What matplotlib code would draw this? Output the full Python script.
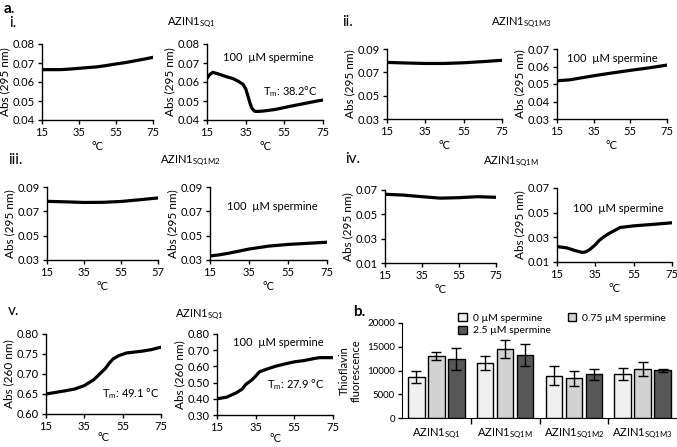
import matplotlib
matplotlib.use("Agg")
import matplotlib.pyplot as plt
import numpy as np

plt.rcParams['font.family'] = ['Lato', 'DejaVu Sans']
plt.rcParams['mathtext.fontset'] = 'custom'
plt.rcParams['mathtext.rm'] = 'Lato'
plt.rcParams['mathtext.it'] = 'Lato'
plt.rcParams['mathtext.default'] = 'regular'

W, H = 677, 447

# ---------------- data ----------------
# panel i (AZIN1 SQ1, 295 nm)
i_no_t = [15, 20, 25, 30, 35, 40, 45, 50, 55, 60, 65, 70, 75]
i_no_y = [0.0665, 0.0665, 0.0665, 0.0668, 0.0672, 0.0676, 0.0680, 0.0687, 0.0695, 0.0702, 0.0711, 0.0720, 0.0730]
i_sp_t = [15, 16.5, 18, 21, 25, 28.4, 31, 33.6, 35, 36.2, 37.2, 38, 39, 39.7, 41, 44, 50, 54.3, 58, 63, 68, 72, 75]
i_sp_y = [0.0620, 0.0640, 0.0651, 0.0642, 0.0628, 0.0618, 0.0605, 0.0588, 0.0565, 0.0525, 0.0490, 0.0467, 0.0452, 0.0446, 0.0445, 0.0447, 0.0455, 0.0464, 0.0472, 0.0482, 0.0492, 0.0500, 0.0505]

# panel ii (AZIN1 SQ1M3)
ii_no_t = [15, 25, 35, 45, 55, 65, 75]
ii_no_y = [0.0785, 0.0780, 0.0776, 0.0776, 0.0782, 0.0792, 0.0803]
ii_sp_t = [15, 22, 35, 45, 55, 65, 75]
ii_sp_y = [0.0518, 0.0524, 0.0547, 0.0563, 0.0578, 0.0592, 0.0608]

# panel iii (AZIN1 SQ1M2)
iii_no_t = [15, 25, 35, 45, 55, 65, 75]
iii_no_y = [0.0782, 0.0778, 0.0773, 0.0774, 0.0781, 0.0795, 0.0810]
iii_sp_t = [15, 20, 25, 35, 45, 55, 65, 75]
iii_sp_y = [0.0333, 0.0343, 0.0357, 0.0390, 0.0414, 0.0428, 0.0437, 0.0446]

# panel iv (AZIN1 SQ1M)
iv_no_t = [15, 25, 35, 45, 55, 65, 75]
iv_no_y = [0.0665, 0.0658, 0.0645, 0.0633, 0.0637, 0.0645, 0.0640]
iv_sp_t = [15, 20, 25, 28, 30, 32, 35, 37, 40, 42, 45, 48, 55, 65, 75]
iv_sp_y = [0.0225, 0.0215, 0.0190, 0.0178, 0.0182, 0.0200, 0.0240, 0.0275, 0.0310, 0.0330, 0.0355, 0.0380, 0.0393, 0.0405, 0.0418]

# panel v (AZIN1 SQ1, 260 nm)
v_no_t = [15, 20, 25, 30, 35, 40, 43, 46, 48, 50, 53, 57, 65, 70, 75]
v_no_y = [0.650, 0.654, 0.658, 0.6625, 0.671, 0.686, 0.700, 0.714, 0.727, 0.7375, 0.746, 0.7525, 0.757, 0.761, 0.767]
v_sp_t = [15, 20, 25, 28, 30, 33, 35, 37, 40, 45, 50, 55, 60, 65, 68, 75]
v_sp_y = [0.400, 0.410, 0.437, 0.460, 0.490, 0.516, 0.540, 0.567, 0.580, 0.600, 0.615, 0.628, 0.636, 0.648, 0.654, 0.654]

# panel b (Thioflavin fluorescence)
b_categories = [r'AZIN1$_{\mathrm{SQ1}}$', r'AZIN1$_{\mathrm{SQ1M}}$',
                r'AZIN1$_{\mathrm{SQ1M2}}$', r'AZIN1$_{\mathrm{SQ1M3}}$']
b_series = ['0 µM spermine', '0.75 µM spermine', '2.5 µM spermine']
b_values = [[8700, 11600, 8900, 9200],
            [13100, 14500, 8350, 10300],
            [12450, 13300, 9200, 10050]]
b_errors = [[1250, 1550, 1950, 1300],
            [900, 1900, 1600, 1400],
            [2250, 2250, 1200, 300]]
b_colors = ['#f0f0f0', '#d2d2d2', '#575757']

fig = plt.figure(figsize=(W / 100, H / 100), dpi=100)


def ax_px(x0, y0, x1, y1):
    return fig.add_axes([x0 / W, 1 - y1 / H, (x1 - x0) / W, (y1 - y0) / H])


FS = 8


def style(ax, yticks, ylim, xlabels=None, ylabel='Abs (295 nm)', yfmt='{:.2f}', xpad=2):
    for s in ['top', 'right']:
        ax.spines[s].set_visible(False)
    for s in ['left', 'bottom']:
        ax.spines[s].set_linewidth(1.0)
    ax.set_xlim(15, 75)
    ax.set_ylim(*ylim)
    ax.set_xticks([15, 35, 55, 75])
    ax.set_xticklabels(xlabels if xlabels else ['15', '35', '55', '75'], fontsize=FS)
    ax.set_yticks(yticks)
    ax.set_yticklabels([yfmt.format(v) for v in yticks], fontsize=FS)
    ax.tick_params(direction='out', length=3, width=1, pad=2)
    ax.set_xlabel('°C', fontsize=FS, labelpad=xpad)
    ax.set_ylabel(ylabel, fontsize=8.5, labelpad=2)


LW = 2.3

# panel i
a = ax_px(42, 44, 153, 120)
a.plot(i_no_t, i_no_y, color='black', lw=LW)
style(a, [0.04, 0.05, 0.06, 0.07, 0.08], (0.04, 0.08))
a = ax_px(207, 44, 323, 120)
a.plot(i_sp_t, i_sp_y, color='black', lw=LW)
style(a, [0.04, 0.05, 0.06, 0.07, 0.08], (0.04, 0.08))
a.text(0.53, 0.82, '100  µM spermine', transform=a.transAxes, ha='center', va='center', fontsize=FS)
a.text(0.72, 0.37, r'T$_{\mathrm{m}}$: 38.2°C', transform=a.transAxes, ha='center', va='center', fontsize=FS)

# panel ii
a = ax_px(387, 49, 502, 119)
a.plot(ii_no_t, ii_no_y, color='black', lw=LW)
style(a, [0.03, 0.05, 0.07, 0.09], (0.03, 0.09))
a = ax_px(557, 49, 667, 119)
a.plot(ii_sp_t, ii_sp_y, color='black', lw=LW)
style(a, [0.03, 0.04, 0.05, 0.06, 0.07], (0.03, 0.07))
a.text(0.5, 0.87, '100  µM spermine', transform=a.transAxes, ha='center', va='center', fontsize=FS)

# panel iii
a = ax_px(47, 187, 158, 260)
a.plot(iii_no_t, iii_no_y, color='black', lw=LW)
style(a, [0.03, 0.05, 0.07, 0.09], (0.03, 0.09), xlabels=['15', '35', '55', '57'])
a = ax_px(210, 187, 327, 260)
a.plot(iii_sp_t, iii_sp_y, color='black', lw=LW)
style(a, [0.03, 0.05, 0.07, 0.09], (0.03, 0.09))
a.text(0.53, 0.73, '100  µM spermine', transform=a.transAxes, ha='center', va='center', fontsize=FS)

# panel iv
a = ax_px(385, 190, 496, 263)
a.plot(iv_no_t, iv_no_y, color='black', lw=LW)
style(a, [0.01, 0.03, 0.05, 0.07], (0.01, 0.07))
a = ax_px(557, 188, 672, 262)
a.plot(iv_sp_t, iv_sp_y, color='black', lw=LW)
style(a, [0.01, 0.03, 0.05, 0.07], (0.01, 0.07))
a.text(0.53, 0.72, '100  µM spermine', transform=a.transAxes, ha='center', va='center', fontsize=FS)

# panel v
a = ax_px(46, 334, 161, 414)
a.plot(v_no_t, v_no_y, color='black', lw=LW)
style(a, [0.60, 0.65, 0.70, 0.75, 0.80], (0.60, 0.80), ylabel='Abs (260 nm)', xpad=0)
a.text(0.74, 0.26, r'T$_{\mathrm{m}}$: 49.1 °C', transform=a.transAxes, ha='center', va='center', fontsize=FS)
a = ax_px(217, 334, 333, 415)
a.plot(v_sp_t, v_sp_y, color='black', lw=LW)
style(a, [0.30, 0.40, 0.50, 0.60, 0.70, 0.80], (0.30, 0.80), ylabel='Abs (260 nm)', xpad=0)
a.text(0.53, 0.90, '100  µM spermine', transform=a.transAxes, ha='center', va='center', fontsize=FS)
a.text(0.68, 0.38, r'T$_{\mathrm{m}}$: 27.9 °C', transform=a.transAxes, ha='center', va='center', fontsize=FS)

# panel b
b = ax_px(402, 323, 677, 418)
x = np.arange(len(b_categories))
offsets = [-0.29, 0.0, 0.29]
handles = []
for k in range(3):
    h = b.bar(x + offsets[k], b_values[k], width=0.24, color=b_colors[k], edgecolor='black',
              linewidth=1.0, yerr=b_errors[k], capsize=3.5,
              error_kw=dict(ecolor='black', elinewidth=1.0, capthick=1.0), label=b_series[k])
    handles.append(h)
b.set_xlim(-0.5, 3.5)
b.set_ylim(0, 20000)
b.set_yticks([0, 5000, 10000, 15000, 20000])
b.set_yticklabels(['0', '5000', '10000', '15000', '20000'], fontsize=7)
b.set_xticks(x)
b.set_xticklabels(b_categories, fontsize=FS)
b.set_xticks([0.5, 1.5, 2.5], minor=True)
b.tick_params(axis='x', which='major', length=0, pad=6)
b.tick_params(axis='x', which='minor', length=4, direction='out', width=1)
b.tick_params(axis='y', direction='out', length=3, width=1, pad=2)
for s in ['top', 'right']:
    b.spines[s].set_visible(False)
b.set_ylabel('Thioflavin\nfluorescence', fontsize=8, labelpad=4, linespacing=1.1)
b.legend([handles[0], handles[2], handles[1]], [b_series[0], b_series[2], b_series[1]],
         ncol=2, frameon=False, fontsize=7.5, loc='upper left', bbox_to_anchor=(0.19, 1.15),
         handlelength=0.8, handleheight=0.8, handletextpad=0.6, columnspacing=1.6,
         labelspacing=0.3, borderaxespad=0)

# labels / titles
fig.text(4 / W, 1 - 9 / H, 'a.', fontsize=11, fontweight='bold', va='center')
fig.text(353 / W, 1 - 312 / H, 'b.', fontsize=11, fontweight='bold', va='center')
for lab, px, py in [('i.', 9, 23), ('ii.', 342, 22), ('iii.', 8, 160), ('iv.', 345, 159), ('v.', 8, 311)]:
    fig.text(px / W, 1 - py / H, lab, fontsize=11, va='center')
for lab, px, py in [(r'AZIN1$_{\mathrm{SQ1}}$', 191, 23), (r'AZIN1$_{\mathrm{SQ1M3}}$', 521, 23),
                    (r'AZIN1$_{\mathrm{SQ1M2}}$', 190, 161), (r'AZIN1$_{\mathrm{SQ1M}}$', 511, 162),
                    (r'AZIN1$_{\mathrm{SQ1}}$', 199, 315)]:
    fig.text(px / W, 1 - py / H, lab, fontsize=8, ha='center', va='center')

fig.savefig('out.png', dpi=100)
